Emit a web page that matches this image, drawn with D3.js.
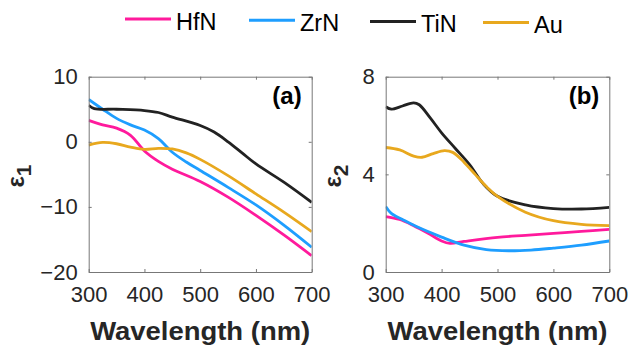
<!DOCTYPE html>
<html>
<head>
<meta charset="utf-8">
<script src="https://cdnjs.cloudflare.com/ajax/libs/d3/7.8.5/d3.min.js"></script>
<style>
  body { margin: 0; background: #fff; }
  text { font-family: "Liberation Sans", Arial, sans-serif; fill: #262626; }
</style>
</head>
<body>
<svg id="chart" width="632" height="350"></svg>
<script>
// data
const materials = ["HfN", "ZrN", "TiN", "Au"];
const colors = ["#ff1a9c", "#1e9eff", "#222222", "#e8a81e"];

// eps1 (panel a)
const hfnE1 = [[300,3.3],[325,2.6],[350,2.1],[375,1.0],[400,-1.4],[425,-3.0],[450,-4.2],[500,-6.1],[550,-8.5],[600,-11.3],[650,-14.3],[700,-17.5]];
const zrnE1 = [[300,6.5],[325,5.0],[350,3.6],[375,2.6],[400,1.8],[425,0.5],[450,-1.6],[475,-3.1],[500,-4.4],[550,-7.0],[600,-9.7],[650,-12.8],[700,-16.2]];
const tinE1 = [[300,5.6],[310,5.1],[350,5.0],[400,4.8],[425,4.5],[450,3.8],[500,2.5],[525,1.5],[550,0],[575,-1.7],[600,-3.4],[650,-6.2],[700,-9.3]];
const auE1  = [[300,-0.5],[325,-0.1],[350,-0.3],[375,-0.8],[400,-1.15],[425,-1.0],[450,-1.1],[475,-1.7],[500,-2.7],[550,-5.2],[600,-8.0],[650,-10.8],[700,-13.8]];

// eps2 (panel b)
const hfnE2 = [[300,2.27],[325,2.15],[350,1.9],[375,1.6],[400,1.27],[415,1.17],[440,1.25],[500,1.42],[550,1.5],[600,1.58],[650,1.66],[700,1.75]];
const zrnE2 = [[300,2.68],[310,2.4],[330,2.15],[355,1.86],[400,1.43],[440,1.1],[480,0.92],[520,0.87],[560,0.9],[600,0.98],[650,1.1],[700,1.27]];
const tinE2 = [[300,6.77],[310,6.67],[330,6.8],[350,6.93],[360,6.85],[380,6.3],[400,5.7],[425,5.05],[450,4.4],[475,3.6],[500,3.1],[550,2.75],[600,2.6],[650,2.58],[700,2.65]];
const auE2  = [[300,5.1],[325,5.0],[350,4.75],[365,4.7],[385,4.85],[405,4.97],[420,4.9],[440,4.5],[460,4.0],[480,3.5],[500,3.1],[550,2.45],[600,2.1],[650,1.95],[700,1.9]];

const xTicks = [300, 400, 500, 600, 700];
const yTicksA = [-20, -10, 0, 10];
const yTicksB = [0, 4, 8];

const svg = d3.select("#chart");

// legend
const legendX = [125, 249, 370, 483];
materials.forEach(function(m, i) {
    const y = 19 + i * 1.2;
    svg.append("line")
        .attr("x1", legendX[i]).attr("x2", legendX[i] + 46)
        .attr("y1", y).attr("y2", y)
        .attr("stroke", colors[i]).attr("stroke-width", 3);
    svg.append("text")
        .attr("x", legendX[i] + 51).attr("y", y + 10.5)
        .style("font-size", "23.5px")
        .style("fill", "#000")
        .text(m);
});

function drawPanel(opts) {
    const x = d3.scaleLinear().domain([300, 700]).range([opts.left, opts.right]);
    const y = d3.scaleLinear().domain(opts.yDomain).range([272, 76.7]);
    const g = svg.append("g");

    g.append("clipPath").attr("id", "clip-" + opts.tag)
        .append("rect")
        .attr("x", opts.left).attr("y", 76.7)
        .attr("width", opts.right - opts.left).attr("height", 272 - 76.7);

    const line = d3.line()
        .x(function(d) { return x(d[0]); })
        .y(function(d) { return y(d[1]); })
        .curve(d3.curveCatmullRom.alpha(0.5));

    opts.series.forEach(function(s, i) {
        g.append("path")
            .datum(s)
            .attr("clip-path", "url(#clip-" + opts.tag + ")")
            .attr("fill", "none")
            .attr("stroke", colors[i])
            .attr("stroke-width", 2.8)
            .attr("stroke-linejoin", "round")
            .attr("d", line);
    });

    // box with inner ticks on all sides
    const axB = d3.axisBottom(x).tickValues(xTicks).tickSizeInner(-3).tickSizeOuter(0).tickPadding(14);
    const axT = d3.axisTop(x).tickValues(xTicks).tickSizeInner(-3).tickSizeOuter(0).tickFormat("");
    const axL = d3.axisLeft(y).tickValues(opts.yTicks).tickSizeInner(-3).tickSizeOuter(0).tickPadding(11);
    const axR = d3.axisRight(y).tickValues(opts.yTicks).tickSizeInner(-3).tickSizeOuter(0).tickFormat("");

    [[axB, "translate(0,272)"], [axT, "translate(0,76.7)"],
     [axL, "translate(" + opts.left + ",0)"], [axR, "translate(" + opts.right + ",0)"]].forEach(function(a) {
        const ag = g.append("g").attr("transform", a[1]).call(a[0]);
        ag.select(".domain").attr("stroke", "#777").attr("stroke-width", 1);
        ag.selectAll(".tick line").attr("stroke", "#777");
        ag.selectAll("text")
            .style("font-size", "22px")
            .style("font-family", "'Liberation Sans', Arial, sans-serif")
            .attr("fill", "#262626");
    });

    // x label
    g.append("text")
        .attr("x", (opts.left + opts.right) / 2).attr("y", 340)
        .attr("text-anchor", "middle")
        .attr("textLength", 220).attr("lengthAdjust", "spacingAndGlyphs")
        .style("font-size", "25px").style("font-weight", "bold")
        .text("Wavelength (nm)");

    // y label (epsilon with subscript)
    const yl = g.append("text")
        .attr("transform", "translate(" + opts.labelX + ",176) rotate(-90)")
        .attr("text-anchor", "middle")
        .style("font-weight", "bold");
    yl.append("tspan").style("font-size", "24px").text("\u03b5");
    yl.append("tspan").attr("dy", 7).style("font-size", "21px").text(opts.sub);

    // panel tag
    g.append("text")
        .attr("x", opts.right - 10).attr("y", 104)
        .attr("text-anchor", "end")
        .style("font-size", "24px").style("font-weight", "bold")
        .style("fill", "#000")
        .text(opts.label);
}

drawPanel({
    tag: "a", left: 88.7, right: 311.7, yDomain: [-20, 10], yTicks: yTicksA,
    series: [hfnE1, zrnE1, tinE1, auE1], labelX: 24, sub: "1", label: "(a)"
});
drawPanel({
    tag: "b", left: 385.7, right: 609.3, yDomain: [0, 8], yTicks: yTicksB,
    series: [hfnE2, zrnE2, tinE2, auE2], labelX: 341, sub: "2", label: "(b)"
});
</script>
</body>
</html>
